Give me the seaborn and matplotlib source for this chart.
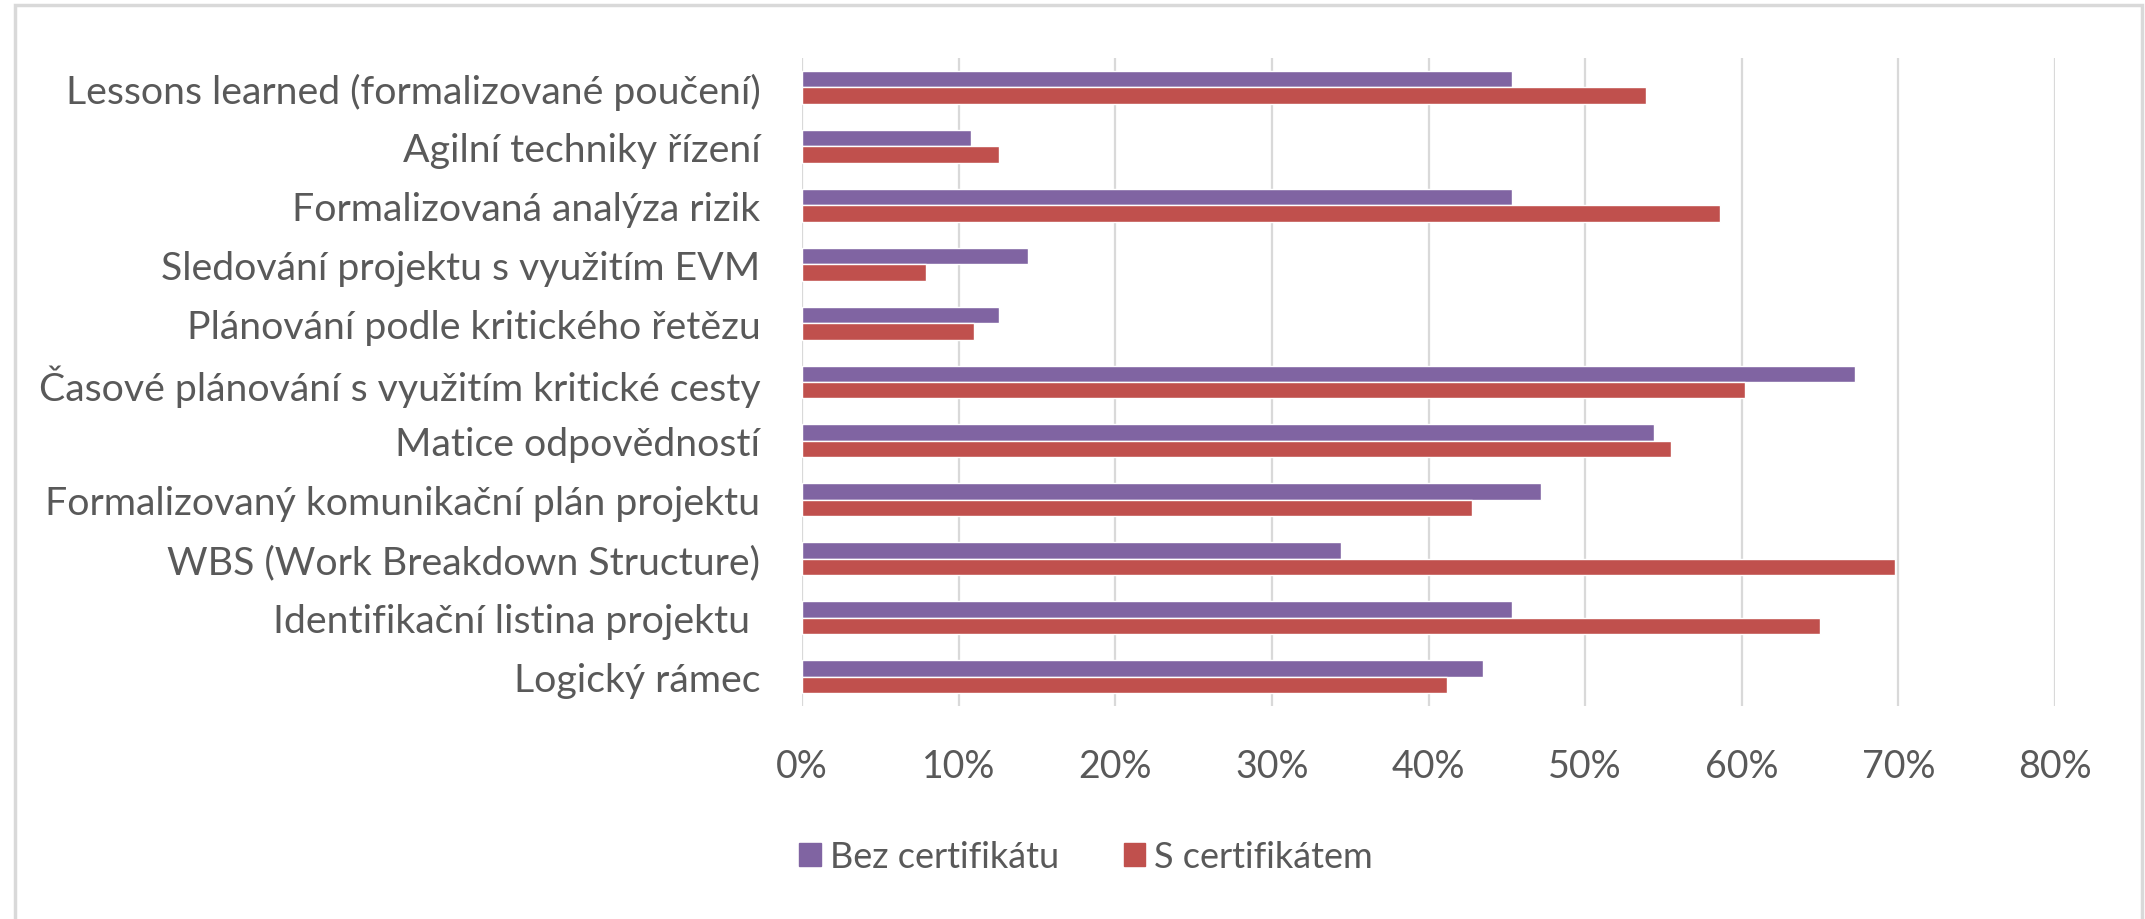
import matplotlib
matplotlib.use("Agg")
import matplotlib.pyplot as plt
import pandas as pd
import seaborn as sns
from matplotlib.patches import Rectangle

# categories, top to bottom
kategorie = [
    "Lessons learned (formalizované poučení)",
    "Agilní techniky řízení",
    "Formalizovaná analýza rizik",
    "Sledování projektu s využitím EVM",
    "Plánování podle kritického řetězu",
    "Časové plánování s využitím kritické cesty",
    "Matice odpovědností",
    "Formalizovaný komunikační plán projektu",
    "WBS (Work Breakdown Structure)",
    "Identifikační listina projektu ",
    "Logický rámec",
]
bez_certifikatu = [45.3, 10.8, 45.3, 14.4, 12.6, 67.2, 54.4, 47.2, 34.4, 45.3, 43.5]
s_certifikatem = [53.9, 12.6, 58.6, 7.9, 11.0, 60.2, 55.5, 42.8, 69.8, 65.0, 41.2]
skupiny = ["Bez certifikátu", "S certifikátem"]
barvy = ["#8064A2", "#C0504D"]
x_ticks = [0, 10, 20, 30, 40, 50, 60, 70, 80]

df = pd.DataFrame({
    "kategorie": kategorie * 2,
    "podil": bez_certifikatu + s_certifikatem,
    "skupina": [skupiny[0]] * len(kategorie) + [skupiny[1]] * len(kategorie),
})

sns.set_theme(style="white")
plt.rcParams["font.family"] = ["Lato", "DejaVu Sans"]
text_color = "#595959"
grid_color = "#D9D9D9"

fig = plt.figure(figsize=(21.45, 9.2), dpi=100)
ax = fig.add_axes([802 / 2145, 1 - 707 / 920, (2055 - 802) / 2145, (707 - 59) / 920])

sns.barplot(data=df, y="kategorie", x="podil", hue="skupina", order=kategorie,
            hue_order=skupiny, palette=barvy, width=0.56, orient="h",
            saturation=1, ax=ax, legend=False, zorder=3)

ax.set_xlim(0, 80)
ax.set_ylim(len(kategorie) - 0.5, -0.5)
ax.set_xticks(x_ticks)
ax.set_xticklabels([f"{t}%" for t in x_ticks])
ax.set_xlabel("")
ax.set_ylabel("")
ax.xaxis.grid(True, color=grid_color, linewidth=1.6, zorder=0)
ax.set_axisbelow(True)
for s in ax.spines.values():
    s.set_visible(False)
ax.tick_params(axis="both", length=0, colors=text_color)
ax.tick_params(axis="x", pad=30, labelsize=27)
ax.tick_params(axis="y", pad=30, labelsize=28.3)

handles = [Rectangle((0, 0), 1, 1, color=c) for c in barvy]
fig.legend(handles, skupiny, loc="center", bbox_to_anchor=(1086 / 2145, 1 - 858 / 920),
           ncol=2, frameon=False, fontsize=26, handlelength=0.6, handleheight=0.6,
           handletextpad=0.25, columnspacing=1.8, labelcolor=text_color)

# chart frame
fig.add_artist(Rectangle((15 / 2145, -0.05), (2142 - 15) / 2145, 1.05 - 6 / 920,
                         transform=fig.transFigure, fill=False,
                         edgecolor=grid_color, linewidth=2.5))

fig.savefig("out.png", dpi=100)
